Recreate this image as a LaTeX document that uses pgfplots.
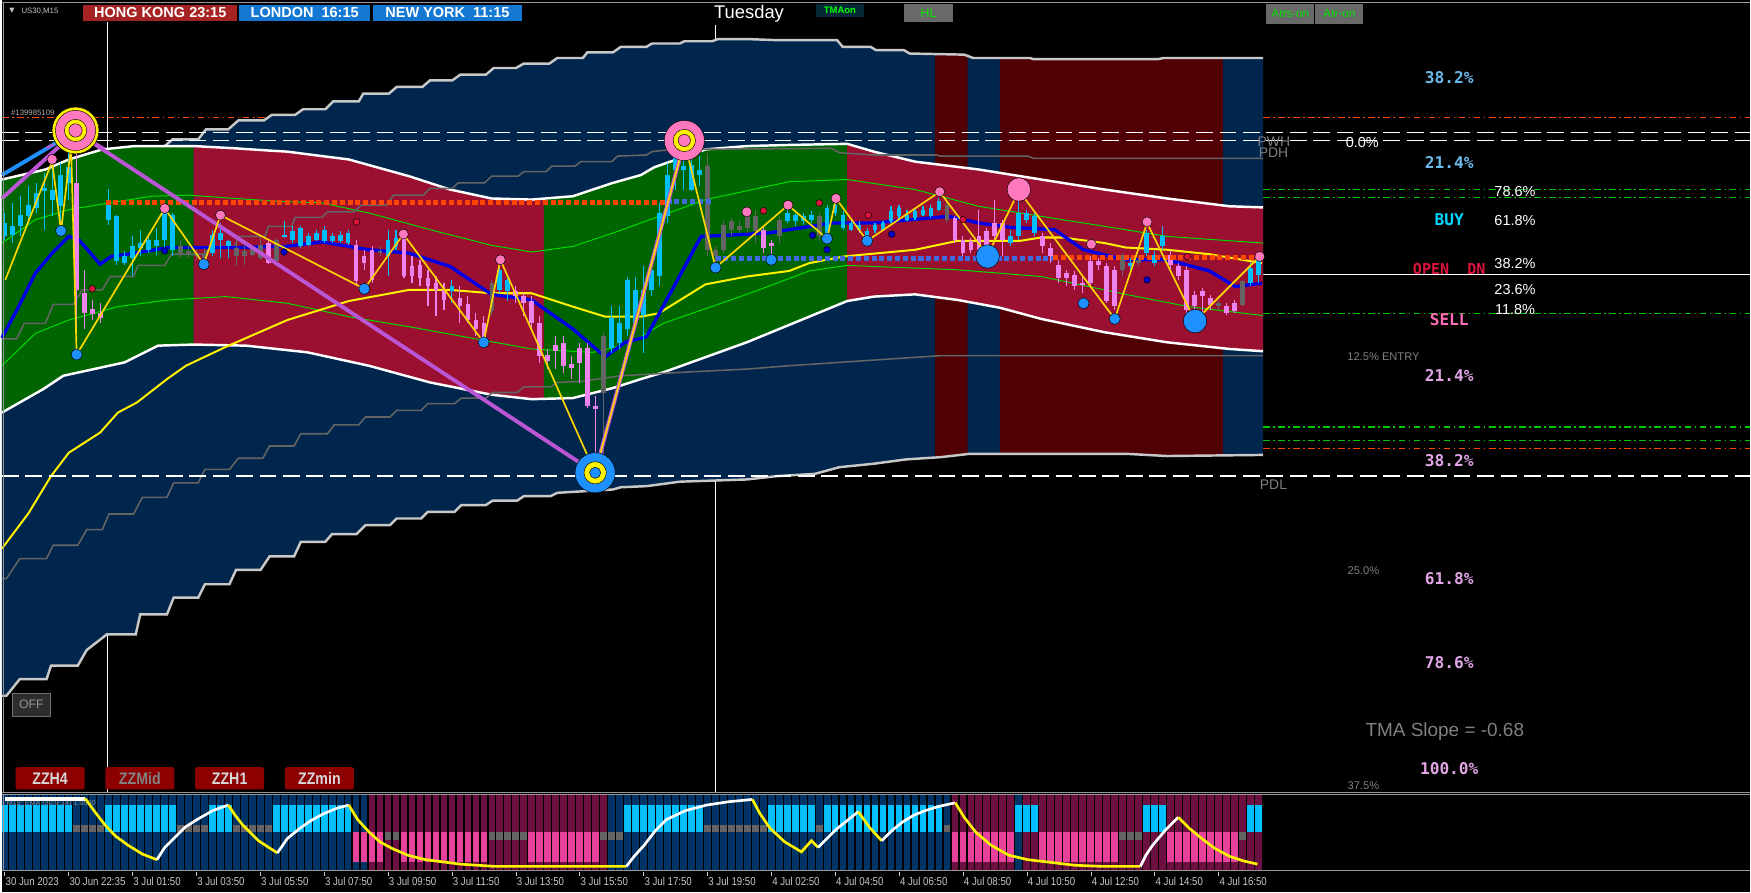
\documentclass[border=0pt]{standalone}
\usepackage{fontspec}
\setmainfont{Liberation Sans}
\newfontfamily\monob{DejaVu Sans Mono}
\newfontfamily\condf[FakeStretch=0.85]{Liberation Sans}
\newfontfamily\dejavu{DejaVu Sans}
\usepackage{pgfplots}
\pgfplotsset{compat=1.18}
\usepackage{pgfplotstable}
\newcommand\fs[1]{\fontsize{#1}{#1}\selectfont}

\definecolor{navyband}{RGB}{0,38,78}
\definecolor{darkcol}{RGB}{80,0,5}
\definecolor{bandgreen}{RGB}{0,100,0}
\definecolor{bandred}{RGB}{155,15,48}
\definecolor{lgrey}{RGB}{200,200,200}
\definecolor{dgrey}{RGB}{100,100,100}
\definecolor{limel}{RGB}{0,220,0}
\definecolor{mablue}{RGB}{0,0,230}
\definecolor{zzgold}{RGB}{255,215,0}
\definecolor{orchidl}{RGB}{186,85,211}
\definecolor{dodger}{RGB}{30,144,255}
\definecolor{hotp}{RGB}{255,120,190}
\definecolor{sqorange}{RGB}{255,69,0}
\definecolor{sqblue}{RGB}{65,105,225}
\definecolor{hkred}{RGB}{165,35,35}
\definecolor{lonblue}{RGB}{20,120,210}
\definecolor{zzred}{RGB}{140,0,0}
\definecolor{lblue}{RGB}{110,185,235}
\definecolor{buycyan}{RGB}{0,215,255}
\definecolor{opencrim}{RGB}{220,20,60}
\definecolor{sellpink}{RGB}{255,110,180}
\definecolor{plumtxt}{RGB}{225,165,230}
\definecolor{txtgrey}{RGB}{128,128,128}
\definecolor{tickgrey}{RGB}{200,200,200}
\definecolor{dashgreen}{RGB}{0,200,0}
\definecolor{smallred}{RGB}{220,20,60}
\definecolor{smallblue}{RGB}{0,0,205}
\definecolor{framegrey}{RGB}{150,150,150}

% ---------- candles (bar index, class 0 bull 1 bear 2 neutral, body top/bottom, wick top/bottom; chart pixel units)
\pgfplotstableread{
i c bt bb wt wb
0 0 200 212 191 215
1 0 203 210.5 182 218
2 0 192.5 203 176 212
3 0 183.6 194 167 200
4 0 173 186.6 164 191
5 0 168.7 171.6 155 206
6 0 170 179 149 194
7 0 156.7 185 146 207
8 0 150 164 136 179
9 1 164 260 120 300
10 1 262.7 280.6 241.8 295.5
11 1 277 282 268.7 286.6
12 1 280.6 285 271.6 289.6
13 0 183.6 197 169.6 201.5
14 0 194 234.3 192.5 237.3
15 0 229.8 235.8 225 237.3
16 0 221 231.3 212 247.8
17 0 218 222.4 206 229.8
18 0 215 224 212 227
19 0 215 221 204.5 228.4
20 0 188 215 185 227
21 0 192.5 224 191 229.8
22 2 221 227.5 215 231.3
23 2 225.4 228.4 221 231.3
24 2 226.9 229.8 224 232.8
25 2 226.9 231.3 222.4 235.8
26 0 210.4 226.9 206 229.8
27 0 209 215 200 231.3
28 0 216.4 221 215 231.3
29 2 222.4 229.8 215 238.8
30 2 225.4 229.8 221 237.3
31 2 223.3 228.4 221 229.8
32 2 219.4 231.3 212 232.8
33 1 218 235.8 216.4 236.4
34 2 215 234.3 213.4 234.3
35 0 210.4 212.5 198.5 213.4
36 0 207.4 215 203 218
37 0 204.5 221 203 222.4
38 0 212 219.4 209 221
39 0 209 215 206 216.4
40 0 206 216.4 203 218
41 0 212 216.4 209 218
42 0 210.5 216.4 207.5 218
43 0 209 218 206 219.4
44 1 219.4 252.2 215 256.7
45 1 230 235.8 224 241.8
46 1 224 250.7 221 253.7
47 2 225.4 226.9 221 230
48 0 215 230 206 247.8
49 0 213.4 221 206 224
50 1 212 247.8 209 249.3
51 1 238.8 247.8 230 253.7
52 1 237.3 249.3 232.8 256.7
53 1 249.3 256.7 241.8 274.6
54 1 253.7 259.7 247.8 283.6
55 1 259.7 268.7 253.7 277.6
56 0 256.7 261.2 250.7 271.6
57 1 267.2 274.6 256.7 289.6
58 1 273 286.6 265.7 289.6
59 1 286.6 295.5 280.6 301.5
60 1 289.6 304.5 283.6 310.4
61 2 254 279 251 283.6
62 0 241.8 259.7 235.8 262.7
63 0 250.7 261.2 248 270
64 1 261.2 265.7 256.7 271.6
65 1 265.7 271.6 262.7 283.6
66 1 270 289.6 265.7 295.5
67 1 289.6 319.4 283.6 325.4
68 1 318 324 313.4 331.3
69 1 309 315 301.5 331.3
70 1 307.5 328.4 301.5 334.3
71 1 326.9 329.8 319.4 340.3
72 1 312 325.4 307.5 343.3
73 1 312 364.2 307.5 365.7
74 1 364.2 367.2 355.2 426.9
75 2 301.5 352.2 298.5 426.9
76 0 285 312 274.6 316.4
77 0 289.6 307.5 274.6 313.4
78 0 250.7 295.5 248 301.5
79 0 259.7 289.6 248 292.5
80 0 259.7 282.1 238.8 316.4
81 0 241.8 259.7 235.8 265.7
82 0 191 247.8 182.1 256.7
83 0 156.7 194 146.3 200
84 0 140.3 152.2 129.9 170.2
85 0 149.3 152.2 125.4 170.2
86 0 147.8 170.2 134.3 171.6
87 0 152.2 156.7 140.3 167.2
88 2 149.3 223.9 137.3 229.9
89 2 223.9 229.9 220.9 235.8
90 2 201.5 223.9 198.5 226.9
91 2 198.5 206 195.5 212
92 2 203 206 198.5 209
93 2 192.5 204.5 188.1 209
94 2 194 207.5 188.1 217.9
95 1 206 222.4 203 226.9
96 1 217.9 220.9 214.9 229.9
97 2 197 212 194 217.9
98 0 191 198.5 185.1 200
99 0 192.5 198.5 191 203
100 0 194 198.5 191 201.5
101 0 192.5 197 189.6 200
102 2 194 212 191 214.9
103 0 186.6 212 183.6 214.9
104 0 183.6 191 179.1 194
105 0 192.5 204.5 189.6 206
106 0 200 206 197 207.5
107 0 201.5 206 198.5 209
108 0 207.5 214.9 204.5 217.9
109 0 201.5 206 200 209
110 0 200 206 198.5 207.5
111 0 189.6 198.5 185.1 200
112 0 186.6 194 183.6 197
113 0 192.5 197 188.1 198.5
114 0 189.6 195.5 186.6 197
115 0 188.1 192.5 185.1 194
116 0 186.6 194 183.6 195.5
117 0 180.6 188.1 177.6 189.6
118 2 183.6 197 179.1 200
119 1 195.5 214.9 194 217.9
120 1 214.9 226.9 212 229.9
121 1 216.4 223.9 213.4 226.9
122 1 212 223.9 188.1 228.4
123 1 207.5 220.9 204.5 229.9
124 1 200 212 179.1 214.9
125 1 200 214.9 197 229.9
126 0 212 217.9 206 220.9
127 0 191 212 173.1 214.9
128 0 191 197 188.1 200
129 0 194 209 191 212
130 1 212 220.9 209 226.9
131 1 222.4 229.9 217.9 235.8
132 1 237.3 249.3 232.8 253.7
133 1 244.8 249.3 241.8 256.7
134 1 246.3 256.7 243.3 259.7
135 1 253.7 255.2 247.8 262.7
136 1 234.3 253.7 229.9 256.7
137 1 234.3 237.3 231.3 241.8
138 1 238.8 270.1 235.8 271.6
139 1 241.8 274.6 238.8 277.6
140 2 228.4 241.8 226.9 247.8
141 0 235.8 238.8 231.3 243.3
142 2 232.8 235.8 229.9 238.8
143 0 209 226.9 206 229.9
144 0 228.4 235.8 225.4 238.8
145 0 212 220.9 203 223.9
146 1 228.4 237.3 223.9 241.8
147 1 238.8 247.8 235.8 250.7
148 1 241.8 277.6 238.8 280.6
149 1 264.2 274.6 261.2 280.6
150 1 261.2 265.7 258.2 280.6
151 1 267.2 273.1 264.2 277.6
152 2 271.6 274.6 268.7 277.6
153 1 274.6 280.6 271.6 282.1
154 1 271.6 279.1 268.7 280.6
155 2 252.2 273.1 250.7 274.6
156 0 240.3 253.7 235.8 256.7
157 0 232.8 246.3 229.9 253.7
}\candles

% ---------- sub-window: bgm column colour (3 navy, 4 maroon); bm block colour (0 blue, 5 pink, 2 grey); block top y0 and length
\pgfplotstableread{
i bgm bm y0 len
0 3 0 722 24
1 3 0 722 24
2 3 0 722 24
3 3 0 722 24
4 3 0 722 24
5 3 0 722 24
6 3 0 722 24
7 3 0 722 24
8 3 0 722 24
9 3 2 740 6
10 3 2 740 6
11 3 2 740 6
12 3 2 740 6
13 3 0 722 24
14 3 0 722 24
15 3 0 722 24
16 3 0 722 24
17 3 0 722 24
18 3 0 722 24
19 3 0 722 24
20 3 0 722 24
21 3 0 722 24
22 3 2 740 6
23 3 2 740 6
24 3 2 740 6
25 3 2 740 6
26 3 0 722 24
27 3 0 722 24
28 3 0 722 24
29 3 2 740 6
30 3 2 740 6
31 3 2 740 6
32 3 2 740 6
33 3 2 740 6
34 3 0 722 24
35 3 0 722 24
36 3 0 722 24
37 3 0 722 24
38 3 0 722 24
39 3 0 722 24
40 3 0 722 24
41 3 0 722 24
42 3 0 722 24
43 3 0 722 24
44 3 5 746 27
45 3 5 746 27
46 4 5 746 27
47 4 5 746 27
48 4 2 746 7
49 4 2 746 7
50 4 5 746 27
51 4 5 746 27
52 4 5 746 27
53 4 5 746 27
54 4 5 746 27
55 4 5 746 27
56 4 5 746 27
57 4 5 746 27
58 4 5 746 27
59 4 5 746 27
60 4 5 746 27
61 4 2 746 7
62 4 2 746 7
63 4 2 746 7
64 4 2 746 7
65 4 2 746 7
66 4 5 746 27
67 4 5 746 27
68 4 5 746 27
69 4 5 746 27
70 4 5 746 27
71 4 5 746 27
72 4 5 746 27
73 4 5 746 27
74 4 5 746 27
75 4 2 746 7
76 3 2 746 7
77 3 2 746 7
78 3 0 722 24
79 3 0 722 24
80 3 0 722 24
81 3 0 722 24
82 3 0 722 24
83 3 0 722 24
84 3 0 722 24
85 3 0 722 24
86 3 0 722 24
87 3 0 722 24
88 3 2 740 6
89 3 2 740 6
90 3 2 740 6
91 3 2 740 6
92 3 2 740 6
93 3 2 740 6
94 3 2 740 6
95 3 2 740 6
96 3 0 722 24
97 3 0 722 24
98 3 0 722 24
99 3 0 722 24
100 3 0 722 24
101 3 0 722 24
102 3 2 740 6
103 3 0 722 24
104 3 0 722 24
105 3 0 722 24
106 3 0 722 24
107 3 0 722 24
108 3 0 722 24
109 3 0 722 24
110 3 0 722 24
111 3 0 722 24
112 3 0 722 24
113 3 0 722 24
114 3 0 722 24
115 3 0 722 24
116 3 0 722 24
117 3 0 722 24
118 3 2 740 6
119 4 5 746 27
120 4 5 746 27
121 4 5 746 27
122 4 5 746 27
123 4 5 746 27
124 4 5 746 27
125 4 5 746 27
126 4 5 746 27
127 3 0 722 24
128 4 0 722 24
129 4 0 722 24
130 4 5 746 27
131 4 5 746 27
132 4 5 746 27
133 4 5 746 27
134 4 5 746 27
135 4 5 746 27
136 4 5 746 27
137 4 5 746 27
138 4 5 746 27
139 4 5 746 27
140 4 2 746 7
141 4 2 746 7
142 4 2 746 7
143 4 0 722 24
144 4 0 722 24
145 4 0 722 24
146 4 5 746 27
147 4 5 746 27
148 4 5 746 27
149 4 5 746 27
150 4 5 746 27
151 4 5 746 27
152 4 5 746 27
153 4 5 746 27
154 4 5 746 27
155 4 2 746 7
156 4 0 722 24
157 4 0 722 24
}\subcols

\begin{document}
\begin{tikzpicture}
\fill[black] (0,-18pt) rectangle (1568pt,782pt);
\begin{axis}[
  at={(0,0)}, anchor=south west,
  width=1568pt, height=782pt, scale only axis,
  xmin=0, xmax=1568, ymin=0, ymax=782, y dir=reverse,
  clip=false,
  axis line style={draw=none},
  ytick=\empty,
  colormap={chart}{rgb255=(0,191,255) rgb255=(238,130,238) rgb255=(100,100,100) rgb255=(0,51,102) rgb255=(108,15,65) rgb255=(230,65,155)},
  point meta min=0, point meta max=5,
  xtick={2.6,59.9,117.2,174.5,231.8,289.1,346.4,403.7,461,518.3,575.6,632.9,690.2,747.5,804.8,862.1,919.4,976.7,1034,1091.3},
  xticklabels={{30 Jun 2023},{30 Jun 22:35},{3 Jul 01:50},{3 Jul 03:50},{3 Jul 05:50},{3 Jul 07:50},{3 Jul 09:50},{3 Jul 11:50},{3 Jul 13:50},{3 Jul 15:50},{3 Jul 17:50},{3 Jul 19:50},{4 Jul 02:50},{4 Jul 04:50},{4 Jul 06:50},{4 Jul 08:50},{4 Jul 10:50},{4 Jul 12:50},{4 Jul 14:50},{4 Jul 16:50}},
  xtick pos=left, xticklabel pos=left,
  tick align=outside, major tick length=3.5pt,
  tick style={draw=tickgrey, line width=0.8pt},
  xticklabel style={anchor=north west, inner xsep=0.5pt, inner ysep=1pt, text=tickgrey, font=\condf\fs{10.2}},
]
% ----- level lines behind the bands
\addplot[sqorange, line width=1pt, dash pattern=on 6pt off 3pt on 1.5pt off 3pt] coordinates {(0,105) (242,105)};
\addplot[sqorange, line width=1pt, dash pattern=on 6pt off 3pt on 1.5pt off 3pt] coordinates {(1131,105) (1568,105)};
\addplot[dashgreen, line width=1pt, dash pattern=on 6pt off 3pt on 1.5pt off 3pt] coordinates {(1131,170) (1568,170)};
\addplot[dashgreen, line width=1pt, dash pattern=on 6pt off 3pt on 1.5pt off 3pt] coordinates {(1131,177) (1568,177)};
\addplot[dashgreen, line width=1pt, dash pattern=on 6pt off 3pt on 1.5pt off 3pt] coordinates {(1131,281) (1568,281)};
\addplot[dashgreen, line width=1pt, dash pattern=on 6pt off 3pt on 1.5pt off 3pt] coordinates {(1131,383) (1568,383)};
\addplot[dashgreen, line width=1pt, dash pattern=on 6pt off 3pt on 1.5pt off 3pt] coordinates {(1131,395) (1568,395)};
\addplot[sqorange, line width=1pt, dash pattern=on 6pt off 3pt on 1.5pt off 3pt] coordinates {(1131,402) (1568,402)};
\addplot[white, line width=1.1pt] coordinates {(1131,246) (1568,246)};
\addplot[white, line width=1.1pt] coordinates {(95,20) (95,134)};
\addplot[white, line width=1.1pt] coordinates {(95,569) (95,710)};
\addplot[white, line width=1.1pt] coordinates {(640,22) (640,36)};
\addplot[white, line width=1.1pt] coordinates {(640,431) (640,710)};

% ----- outer ATR envelope (navy)
\addplot[fill=navyband, draw=none] coordinates {
(0,161) (39,152) (60,143) (90,134) (119,131) (146,131) (153,125) (176,125) (183,116) (203,116) (212,108) (235,108) (242,103) (263,103) (270,98) (290,98) (297,91) (320,91) (324,84) (347,84) (354,78) (377,78) (384,72) (404,72) (411,67) (434,67) (441,61) (461,61) (468,57) (491,57) (498,52) (521,52) (525,47) (548,47) (555,42) (578,42) (583,39) (608,39) (612,37) (637,37) (642,35) (667,35) (695,36) (749,36) (754,42) (779,42) (784,45) (809,45) (814,48) (863,49) (871,52) (922,52) (925,53) (1037,53) (1042,52) (1131,52)
(1131,408) (1045,409) (1008,407) (868,407) (842,410) (811,412) (781,416) (751,419) (729,425) (695,427) (668,430) (638,431) (608,432) (578,436) (555,437) (548,439) (498,442) (492,445) (468,445) (462,449) (440,449) (434,453) (412,453) (406,459) (382,459) (376,465) (354,465) (348,471) (326,471) (318,479) (296,479) (290,486) (268,486) (262,499) (240,499) (232,511) (210,511) (204,524) (182,524) (176,536) (154,536) (148,551) (124,551) (120,569) (94,569) (76,583) (68,597) (44,597) (40,609) (16,609) (4,624) (0,624)} -- cycle;
% dark session columns
\addplot[fill=darkcol, draw=none] coordinates {(837,48.5) (866,50) (866,407.5) (837,410.5)} -- cycle;
\addplot[fill=darkcol, draw=none] coordinates {(895,52) (922,52) (925,53) (1037,53) (1042,52) (1095,52) (1095,408.5) (1045,409) (1008,407) (895,407)} -- cycle;

% ----- TMA band segments
\addplot[fill=bandgreen, draw=none] coordinates {(0,161) (39,152) (60,143) (90,134) (119,131) (149,131) (172,131) (172,309) (165,309) (140,310) (110,325) (55,337) (37,349) (0,370)} -- cycle;
\addplot[fill=bandred, draw=none] coordinates {(172,131) (209,133) (239,135) (256,136) (287,140) (311,143) (365,158) (402,170) (439,178) (475,179) (486,178) (486,358) (475,358) (439,354) (384,343) (329,328) (274,316) (219,310) (172,309)} -- cycle;
\addplot[fill=bandgreen, draw=none] coordinates {(486,178) (512,176) (548,164) (573,157) (585,150) (631,134) (668,131) (706,130) (758,129) (758,270) (724,284) (668,307) (593,334) (573,340) (548,348) (512,357) (486,358)} -- cycle;
\addplot[fill=bandred, draw=none] coordinates {(758,129) (782,136) (819,145) (876,152) (932,161) (989,170) (1045,178) (1101,185) (1131,186) (1131,315) (1101,313) (1045,307) (989,298) (932,286) (895,276) (857,269) (819,264) (782,266) (758,270)} -- cycle;

% ----- outer stepped lines
\addplot[lgrey, line width=2.2pt] coordinates {(146,131) (153,125) (176,125) (183,116) (203,116) (212,108) (235,108) (242,103) (263,103) (270,98) (290,98) (297,91) (320,91) (324,84) (347,84) (354,78) (377,78) (384,72) (404,72) (411,67) (434,67) (441,61) (461,61) (468,57) (491,57) (498,52) (521,52) (525,47) (548,47) (555,42) (578,42) (583,39) (608,39) (612,37) (637,37) (642,35) (667,35) (695,36) (749,36) (754,42) (779,42) (784,45) (809,45) (814,48) (863,49) (871,52) (922,52) (925,53) (1037,53) (1042,52) (1131,52)};
\addplot[lgrey, line width=2.2pt] coordinates {(0,624) (4,624) (16,609) (40,609) (44,597) (68,597) (76,583) (94,569) (120,569) (124,551) (148,551) (154,536) (176,536) (182,524) (204,524) (210,511) (232,511) (240,499) (262,499) (268,486) (290,486) (296,479) (318,479) (326,471) (348,471) (354,465) (376,465) (382,459) (406,459) (412,453) (434,453) (440,449) (462,449) (468,445) (492,445) (498,442) (548,439) (555,437) (578,436) (608,432) (638,431) (668,430) (695,427) (729,425) (751,419) (781,416) (811,412) (842,410) (868,407) (1008,407) (1045,409) (1131,408)};
% inner band edges
\addplot[white, line width=2.2pt] coordinates {(0,161) (39,152) (60,143) (90,134) (119,131) (172,131) (209,133) (239,135) (256,136) (287,140) (311,143) (365,158) (402,170) (439,178) (475,179) (512,176) (548,164) (573,157) (585,150) (631,134) (668,131) (706,130) (758,129) (782,136) (819,145) (876,152) (932,161) (989,170) (1045,178) (1101,185) (1131,186)};
\addplot[white, line width=2.2pt] coordinates {(0,370) (37,349) (55,337) (110,325) (140,310) (172,309) (219,310) (274,316) (329,328) (384,343) (439,354) (475,358) (512,357) (548,348) (573,340) (593,334) (668,307) (724,284) (758,270) (782,266) (819,264) (857,269) (895,276) (932,286) (989,298) (1045,307) (1101,313) (1131,315)};
% inner thin bands
\addplot[limel, line width=0.9pt] coordinates {(0,218) (30,197) (60,188) (90,183) (134,176) (167,175) (209,178) (256,181) (287,182) (329,191) (384,206) (439,220) (475,226) (512,221) (548,209) (573,200) (631,179) (706,163) (758,161) (819,170) (876,185) (932,194) (989,203) (1045,212) (1131,218)};
\addplot[limel, line width=0.9pt] coordinates {(0,328) (30,299) (60,287) (104,275) (149,269) (201,266) (256,272) (311,284) (365,293) (420,303) (475,313) (530,316) (548,312) (573,302) (593,290) (668,264) (724,243) (758,238) (857,242) (932,248) (1008,264) (1064,275) (1131,283)};
% dark grey stepped lines
\addplot[dgrey, line width=1.4pt] coordinates {(0,304) (13,304) (20,290) (39,290) (46,273) (64,273) (72,260) (90,260) (97,248) (118,248) (122,238) (146,238) (152,228) (182,228) (185,221) (209,221) (212,212) (236,212) (239,203) (260,203) (263,195) (287,195) (292,190) (316,190) (322,184) (345,184) (351,175) (378,175) (384,169) (404,169) (409,164) (433,164) (439,158) (463,158) (468,154) (488,154) (493,149) (514,149) (519,145) (547,145) (552,140) (578,139) (583,136) (601,134) (744,133) (751,137) (782,139) (838,139) (842,140) (920,140) (925,142) (1131,142)};
\addplot[dgrey, line width=1.4pt] coordinates {(0,519) (4,519) (16,501) (40,501) (46,489) (68,489) (76,475) (90,475) (96,461) (118,461) (126,446) (148,446) (154,433) (176,433) (182,421) (204,421) (212,411) (234,411) (240,400) (262,400) (268,389) (292,389) (298,381) (320,381) (326,374) (348,374) (354,368) (376,368) (382,362) (406,362) (412,357) (434,357) (440,352) (462,352) (468,347) (492,347) (498,343) (520,342) (555,337) (608,334) (668,331) (706,328) (751,325) (811,321) (842,319) (1131,319)};
% slow MA (yellow) and fast MA (blue)
\addplot[yellow, line width=1.8pt] coordinates {(0,492) (24,460) (44,427) (60,406) (88,388) (104,370) (121,361) (148,340) (165,328) (201,311) (256,287) (311,270) (365,260) (402,260) (439,263) (475,263) (512,275) (541,284) (573,284) (589,281) (631,255) (668,248) (706,243) (724,236) (755,230) (819,224) (857,216) (913,216) (932,213) (951,213) (989,218) (1008,222) (1045,224) (1083,228) (1130,236)};
\addplot[mablue, line width=3pt] coordinates {(0,303) (15,275) (30,245) (45,227) (60,212) (69,215) (88,237) (98,230) (119,227) (149,222) (209,222) (254,221) (287,217) (329,224) (365,227) (402,239) (439,264) (475,269) (512,295) (541,320) (559,307) (578,302) (601,260) (627,212) (650,211) (687,209) (744,200) (782,200) (849,194) (876,200) (906,204) (944,206) (970,224) (1008,233) (1045,233) (1083,243) (1106,257) (1130,254)};

% ----- candles: wicks then bodies (vertical segments, colour from class)
\addplot[line width=1pt, point meta={\thisrow{c}},
  quiver={u=0, v={\thisrow{wb}-\thisrow{wt}}, colored=mapped color, every arrow/.append style={line width=1pt}}]
  table[x expr=2.6+7.16*\thisrow{i}, y=wt] {\candles};
\addplot[line width=4.2pt, point meta={\thisrow{c}},
  quiver={u=0, v={max(\thisrow{bb}-\thisrow{bt},1.4)}, colored=mapped color, every arrow/.append style={line width=4.2pt}}]
  table[x expr=2.6+7.16*\thisrow{i}, y=bt] {\candles};

% ----- square-dot levels
\addplot[sqorange, line width=4.5pt, dash pattern=on 4.5pt off 2.5pt] coordinates {(93,182) (596,182)};
\addplot[sqblue, line width=4.5pt, dash pattern=on 4.5pt off 2.5pt] coordinates {(596,181) (636,181)};
\addplot[sqblue, line width=4.5pt, dash pattern=on 4.5pt off 2.5pt] coordinates {(640,232) (943,232)};
\addplot[sqorange, line width=4.5pt, dash pattern=on 4.5pt off 2.5pt] coordinates {(943,231) (1131,231)};

% ----- zigzags
\addplot[dodger, line width=3.5pt] coordinates {(0,157) (66,118)};
\addplot[orchidl, line width=3.5pt] coordinates {(0,178) (66,118) (532,424) (612,127)};
\addplot[zzgold, line width=1.5pt] coordinates {(3,251) (45,145) (53,207) (62,131) (67,318) (146,187) (181,237) (196,193) (325,259) (360,210) (432,307) (447,233) (532,424) (612,127) (640,240) (705,184) (740,214) (748,178) (776,216) (841,172) (884,229) (912,171) (998,286) (1027,200) (1070,288) (1128,230)};

% ----- swing dots
\addplot[only marks, mark=*, mark size=4.5pt, mark options={fill=hotp, draw=none}] coordinates {(45,143) (146,187) (196,193) (360,210) (447,233) (668,190) (705,184) (748,178) (841,172) (977,219) (1027,199) (1128,230)};
\addplot[only marks, mark=*, mark size=10.5pt, mark options={fill=hotp, draw=none}] coordinates {(912,170)};
\addplot[only marks, mark=*, mark size=5pt, mark options={fill=dodger, draw=none}] coordinates {(53,207) (67,318) (181,237) (325,259) (432,307) (640,240) (690,233) (740,214) (776,216) (970,272) (998,286)};
\addplot[only marks, mark=*, mark size=10.5pt, mark options={fill=dodger, draw=none}] coordinates {(884,230) (1070,288)};
\addplot[only marks, mark=*, mark size=3pt, mark options={fill=smallred, draw=none}] coordinates {(81,259) (318,199) (683,189) (733,182) (777,193) (862,197) (1063,230)};
\addplot[only marks, mark=*, mark size=3pt, mark options={fill=smallblue, draw=none}] coordinates {(146,225) (253,226) (727,211) (740,224) (798,210) (1027,251)};
% targets
\addplot[only marks, mark=*, mark size=21pt, mark options={fill=yellow, draw=none}] coordinates {(66,117)};
\addplot[only marks, mark=*, mark size=18pt, mark options={fill=hotp, draw=none}] coordinates {(66,117)};
\addplot[only marks, mark=*, mark size=10pt, mark options={fill=yellow, draw=none}] coordinates {(66,117)};
\addplot[only marks, mark=*, mark size=6pt, mark options={fill=hotp, draw=none}] coordinates {(66,117)};
\addplot[only marks, mark=*, mark size=18pt, mark options={fill=hotp, draw=none}] coordinates {(612,126)};
\addplot[only marks, mark=*, mark size=10pt, mark options={fill=yellow, draw=none}] coordinates {(612,126)};
\addplot[only marks, mark=*, mark size=5.5pt, mark options={fill=hotp, draw=none}] coordinates {(612,126)};
\addplot[only marks, mark=*, mark size=18pt, mark options={fill=dodger, draw=none}] coordinates {(532,424)};
\addplot[only marks, mark=*, mark size=10pt, mark options={fill=yellow, draw=none}] coordinates {(532,424)};
\addplot[only marks, mark=*, mark size=5pt, mark options={fill=dodger, draw=none}] coordinates {(532,424)};
\addplot[orchidl, line width=2pt] coordinates {(40,133) (66,118) (92,133)};
\addplot[dodger, line width=2pt] coordinates {(46,129) (66,118)};

% ----- previous day/week levels
\addplot[white, line width=1.3pt, dash pattern=on 15pt off 6pt] coordinates {(0,119) (1568,119)};
\addplot[white, line width=1.3pt, dash pattern=on 15pt off 6pt] coordinates {(0,126) (1568,126)};
\addplot[white, line width=1.3pt, dash pattern=on 15pt off 6pt] coordinates {(0,427) (1568,427)};

% ----- sub window columns
\addplot[line width=6pt, point meta={\thisrow{bgm}},
  quiver={u=0, v=67, colored=mapped color, every arrow/.append style={line width=6pt}}]
  table[x expr=2.6+7.16*\thisrow{i}, y expr=713] {\subcols};
\addplot[line width=6pt, point meta={\thisrow{bm}},
  quiver={u=0, v={\thisrow{len}}, colored=mapped color, every arrow/.append style={line width=6pt}}]
  table[x expr=2.6+7.16*\thisrow{i}, y=y0] {\subcols};
\node[anchor=west, text={rgb,255:red,140;green,140;blue,140}, font=\fs{6.5}, inner sep=0pt] at (axis cs:4,721) {M15\_EMA (30,9,14) 1.0000};
% sub window curve
\addplot[white, line width=3pt] coordinates {(2.6,716.5) (74.5,716.5)};
\addplot[yellow, line width=2.4pt] coordinates {(74.5,716) (84,729) (92.5,740) (102,750) (113,758) (126,766) (139,771)};
\addplot[white, line width=2.4pt] coordinates {(139,771) (146,760) (154,752) (164,742) (175,735) (189,727) (203,722)};
\addplot[yellow, line width=2.4pt] coordinates {(203,722) (209,731) (216,740) (230,754) (247,765)};
\addplot[white, line width=2.4pt] coordinates {(247,765) (256,752) (267,743) (277,736) (288,730) (300,725) (311,722)};
\addplot[yellow, line width=2.4pt] coordinates {(311,722) (319,735) (329,746) (339,755) (350,761) (364,767) (380,771) (411,775) (442,777) (500,777) (560,777)};
\addplot[white, line width=2.4pt] coordinates {(560,777) (567,768) (576,758) (586,745) (596,735) (613,727) (632,722) (652,719) (673,717)};
\addplot[yellow, line width=2.4pt] coordinates {(673,717) (680,730) (689,743) (702,755) (717,764) (726,754) (732,760)};
\addplot[white, line width=2.4pt] coordinates {(732,760) (748,744) (768,728)};
\addplot[yellow, line width=2.4pt] coordinates {(768,728) (778,742) (789,754)};
\addplot[white, line width=2.4pt] coordinates {(789,754) (798,745) (808,737) (818,731) (828,727) (841,723) (855,720)};
\addplot[yellow, line width=2.4pt] coordinates {(855,720) (863,733) (873,746) (887,758) (903,767) (920,771) (937,773) (962,776) (987,777) (1021,777)};
\addplot[white, line width=2.4pt] coordinates {(1021,777) (1026,767) (1032,758) (1043,745) (1055,733)};
\addplot[yellow, line width=2.4pt] coordinates {(1055,733) (1065,743) (1076,752) (1088,761) (1101,768) (1113,772) (1126,775)};

% ----- frame lines
\draw[framegrey, line width=1pt] (axis cs:0,2.5) -- (axis cs:1568,2.5);
\draw[framegrey, line width=1pt] (axis cs:1.5,2.5) -- (axis cs:1.5,710.4);
\draw[framegrey, line width=0.9pt] (axis cs:0,710.4) -- (axis cs:1568,710.4);
\draw[framegrey, line width=0.9pt] (axis cs:0,712.4) -- (axis cs:1568,712.4);
\draw[framegrey, line width=0.9pt] (axis cs:0,780.6) -- (axis cs:1568,780.6);
\draw[framegrey, line width=0.9pt] (axis cs:1.5,712.4) -- (axis cs:1.5,780.6);

% ----- top bar texts and buttons
\node[anchor=west, text=lgrey, font=\fs{7}] at (axis cs:14,10) {US30,M15};
\node[text=lgrey, font=\dejavu\fs{6}] at (axis cs:9,10) {▼};
\node[fill=hkred, minimum width=138pt, minimum height=14pt, inner sep=0pt, text=white, font=\bfseries\fs{13}] at (axis cs:142,11.5) {HONG KONG 23:15};
\node[fill=lonblue, minimum width=117pt, minimum height=14pt, inner sep=0pt, text=white, font=\bfseries\fs{13}] at (axis cs:271.5,11.5) {LONDON~~16:15};
\node[fill=lonblue, minimum width=133pt, minimum height=14pt, inner sep=0pt, text=white, font=\bfseries\fs{13}] at (axis cs:399.5,11.5) {NEW YORK~~11:15};
\node[text=white, font=\fs{16.5}] at (axis cs:670,12) {Tuesday};
\node[fill={rgb,255:red,5;green,40;blue,55}, minimum width=43pt, minimum height=11.5pt, inner sep=0pt, text={rgb,255:red,0;green,255;blue,0}, font=\bfseries\fs{8.5}] at (axis cs:751.5,9.3) {TMAon};
\node[fill={rgb,255:red,105;green,105;blue,105}, minimum width=44pt, minimum height=16pt, inner sep=0pt, text={rgb,255:red,0;green,235;blue,0}, font=\fs{11}] at (axis cs:831,11.5) {HL};
\node[fill={rgb,255:red,105;green,105;blue,105}, minimum width=43pt, minimum height=18pt, inner sep=0pt, text={rgb,255:red,0;green,225;blue,0}, font=\fs{10.5}] at (axis cs:1155.5,12.5) {Atrs-on};
\node[fill={rgb,255:red,105;green,105;blue,105}, minimum width=43pt, minimum height=18pt, inner sep=0pt, text={rgb,255:red,0;green,225;blue,0}, font=\fs{10.5}] at (axis cs:1199.5,12.5) {Atr-on};
\node[anchor=west, text={rgb,255:red,170;green,170;blue,170}, font=\fs{7}, inner sep=0pt] at (axis cs:8,101) {\#139985109};

% ----- level labels
\node[anchor=west, text=txtgrey, font=\fs{12.5}, inner sep=0pt] at (axis cs:1126,127) {PWH};
\node[anchor=west, text=txtgrey, font=\fs{12.5}, inner sep=0pt] at (axis cs:1127,137) {PDH};
\node[anchor=west, text=txtgrey, font=\fs{12.5}, inner sep=0pt] at (axis cs:1128,435) {PDL};
\node[text=white, font=\fs{13}] at (axis cs:1220,128) {0.0\%};
\node[text=white, font=\fs{13}] at (axis cs:1357,172) {78.6\%};
\node[text=white, font=\fs{13}] at (axis cs:1357,198) {61.8\%};
\node[text=white, font=\fs{13}] at (axis cs:1357,236) {38.2\%};
\node[text=white, font=\fs{13}] at (axis cs:1357,260) {23.6\%};
\node[text=white, font=\fs{13}] at (axis cs:1357,278) {11.8\%};
\node[text=lblue, font=\monob\bfseries\fs{14.5}] at (axis cs:1298,70) {38.2\%};
\node[text=lblue, font=\monob\bfseries\fs{14.5}] at (axis cs:1298,146) {21.4\%};
\node[text=buycyan, font=\monob\bfseries\fs{14.5}] at (axis cs:1298,197) {BUY};
\node[text=opencrim, font=\monob\bfseries\fs{13.5}] at (axis cs:1298,241.5) {OPEN~~DN};
\node[text=sellpink, font=\monob\bfseries\fs{14.5}] at (axis cs:1298,287) {SELL};
\node[text=txtgrey, font=\fs{10}] at (axis cs:1239,320) {12.5\% ENTRY};
\node[text=plumtxt, font=\monob\bfseries\fs{14.5}] at (axis cs:1298,337) {21.4\%};
\node[text=plumtxt, font=\monob\bfseries\fs{14.5}] at (axis cs:1298,413) {38.2\%};
\node[text=txtgrey, font=\fs{10}] at (axis cs:1221,512) {25.0\%};
\node[text=plumtxt, font=\monob\bfseries\fs{14.5}] at (axis cs:1298,519) {61.8\%};
\node[text=plumtxt, font=\monob\bfseries\fs{14.5}] at (axis cs:1298,594) {78.6\%};
\node[text=txtgrey, font=\fs{17}] at (axis cs:1294,656) {TMA Slope = -0.68};
\node[text=plumtxt, font=\monob\bfseries\fs{14.5}] at (axis cs:1298,689) {100.0\%};
\node[text=txtgrey, font=\fs{10}] at (axis cs:1221,705) {37.5\%};

% ----- bottom-left buttons
\node[fill={rgb,255:red,45;green,45;blue,45}, draw={rgb,255:red,110;green,110;blue,110}, minimum width=34pt, minimum height=20pt, inner sep=0pt, text={rgb,255:red,150;green,150;blue,150}, font=\fs{11}] at (axis cs:26.4,632) {OFF};
\node[fill=zzred, rounded corners=2pt, minimum width=62pt, minimum height=20pt, inner sep=0pt, text={rgb,255:red,215;green,215;blue,215}, font=\condf\bfseries\fs{15}] at (axis cs:43.2,698) {ZZH4};
\node[fill=zzred, rounded corners=2pt, minimum width=62pt, minimum height=20pt, inner sep=0pt, text={rgb,255:red,130;green,130;blue,130}, font=\condf\bfseries\fs{15}] at (axis cs:123.7,698) {ZZMid};
\node[fill=zzred, rounded corners=2pt, minimum width=62pt, minimum height=20pt, inner sep=0pt, text={rgb,255:red,215;green,215;blue,215}, font=\condf\bfseries\fs{15}] at (axis cs:204.2,698) {ZZH1};
\node[fill=zzred, rounded corners=2pt, minimum width=62pt, minimum height=20pt, inner sep=0pt, text={rgb,255:red,215;green,215;blue,215}, font=\condf\bfseries\fs{15}] at (axis cs:284.7,698) {ZZmin};
\end{axis}
\end{tikzpicture}
\end{document}
